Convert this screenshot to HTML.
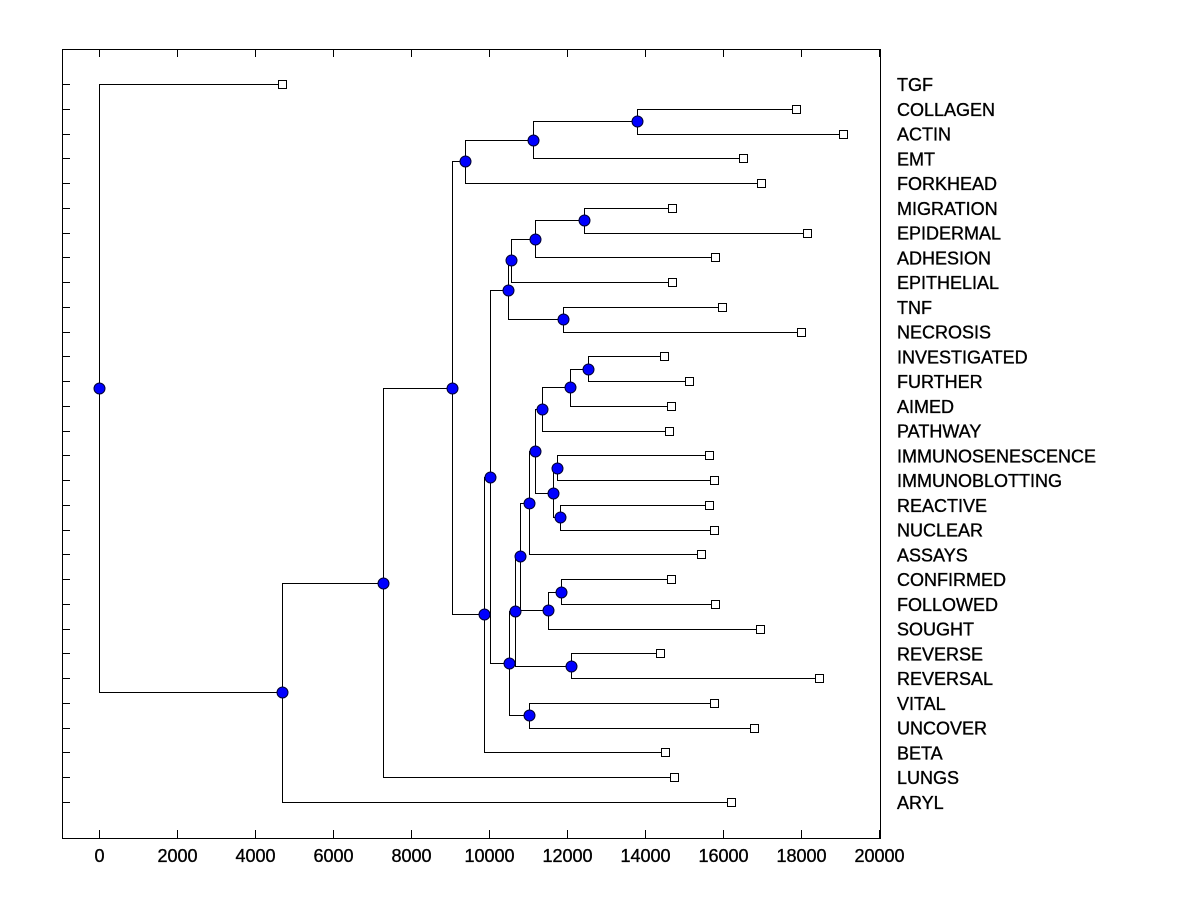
<!DOCTYPE html>
<html><head><meta charset="utf-8"><style>
html,body{margin:0;padding:0;background:#fff;width:1200px;height:900px;overflow:hidden}
svg text{font-family:"Liberation Sans",Arial,sans-serif;font-size:18px;fill:#000;stroke:#000;stroke-width:0.35px}
</style></head><body>
<svg id="chart" width="1200" height="900" viewBox="0 0 1200 900" xmlns="http://www.w3.org/2000/svg">
<rect x="62.5" y="49.5" width="818" height="789" fill="none" stroke="#000" stroke-width="1"/>
<g id="axes"></g>
<g id="links"></g>
<g id="marks"></g>
<g id="labels"></g>
</svg>
<script>
const leafNames = ["TGF","COLLAGEN","ACTIN","EMT","FORKHEAD","MIGRATION","EPIDERMAL","ADHESION","EPITHELIAL","TNF","NECROSIS","INVESTIGATED","FURTHER","AIMED","PATHWAY","IMMUNOSENESCENCE","IMMUNOBLOTTING","REACTIVE","NUCLEAR","ASSAYS","CONFIRMED","FOLLOWED","SOUGHT","REVERSE","REVERSAL","VITAL","UNCOVER","BETA","LUNGS","ARYL"];
const leafValues = [4692,17872,19077,16513,16974,14692,18154,15795,14692,15974,18000,14487,15128,14667,14615,15641,15769,15641,15769,15436,14667,15795,16949,14385,18462,15769,16795,14513,14744,16205];
const mergeValues = [13795,11128,9385,12436,11179,10564,11897,10487,12538,12077,11359,11744,11821,11641,11179,11026,11846,11513,10795,12103,10667,11026,10513,10026,9872,9051,7282,4692,0];
const mergeChildren = [
 [1,2],["m0",3],["m1",4],
 [5,6],["m3",7],["m4",8],[9,10],["m5","m6"],
 [11,12],["m8",13],["m9",14],[15,16],[17,18],["m11","m12"],["m10","m13"],["m14",19],
 [20,21],["m16",22],["m15","m17"],[23,24],["m18","m19"],[25,26],["m20","m21"],
 ["m7","m22"],["m23",27],["m2","m24"],["m25",28],["m26",29],[0,"m27"]
];
const xTicks = [0,2000,4000,6000,8000,10000,12000,14000,16000,18000,20000];

const NS="http://www.w3.org/2000/svg";
const X = v => 99 + v*0.039;
const Y = i => 84 + i*(802-84)/29;
function mk(tag, attrs, parent){const e=document.createElementNS(NS,tag);for(const k in attrs)e.setAttribute(k,attrs[k]);parent.appendChild(e);return e;}
const axes=document.getElementById('axes'), links=document.getElementById('links'), marks=document.getElementById('marks'), labels=document.getElementById('labels');

xTicks.forEach(t=>{
  const x=Math.round(X(t))+0.5;
  let l=mk('line',{x1:x,x2:x,y1:838,y2:830,stroke:'#000'},axes);
  
  
  l=mk('line',{x1:x,x2:x,y1:49,y2:57,stroke:'#000'},axes);
  
  
  const tx=mk('text',{x:x,y:862,'text-anchor':'middle'},axes);
  tx.textContent=String(t);
  
  
});

leafNames.forEach((n,i)=>{
  const y=Math.round(Y(i))+0.5;
  const l=mk('line',{x1:62,x2:70,y1:y,y2:y,stroke:'#000'},axes);
  
  
  const t=mk('text',{x:897,y:Y(i)+7},labels);
  t.textContent=n;
  
  
});

const pos={};
function getPos(c){
  if(typeof c==='number') return {x:X(leafValues[c]),y:Y(c),leaf:true,i:c};
  const k=+c.slice(1);
  if(pos[k]) return pos[k];
  const a=getPos(mergeChildren[k][0]), b=getPos(mergeChildren[k][1]);
  pos[k]={x:X(mergeValues[k]),y:(a.y+b.y)/2,leaf:false,a:a,b:b};
  return pos[k];
}
for(let k=0;k<mergeValues.length;k++) getPos("m"+k);
for(let k=0;k<mergeValues.length;k++){
  const p=pos[k];
  const px=Math.round(p.x)+0.5;
  [p.a,p.b].forEach(c=>{
    const cy=Math.round(c.y)+0.5;
    const pl=mk('polyline',{points:`${px},${Math.round(p.y)+0.5} ${px},${cy} ${Math.round(c.x)+0.5},${cy}`,fill:'none',stroke:'#000','stroke-width':1},links);
    
    
  });
}
leafNames.forEach((n,i)=>{
  const r=mk('rect',{x:Math.round(X(leafValues[i]))-3.5,y:Math.round(Y(i))-3.5,width:8,height:8,fill:'#fff',stroke:'#000'},marks);
  
  
});
for(let k=0;k<mergeValues.length;k++){
  const p=pos[k];
  const c=mk('circle',{cx:Math.round(p.x)+0.5,cy:Math.round(p.y)+0.5,r:5.5,fill:'#0000ff',stroke:'#000033','stroke-width':1},marks);
  
  
}
</script>
</body></html>
